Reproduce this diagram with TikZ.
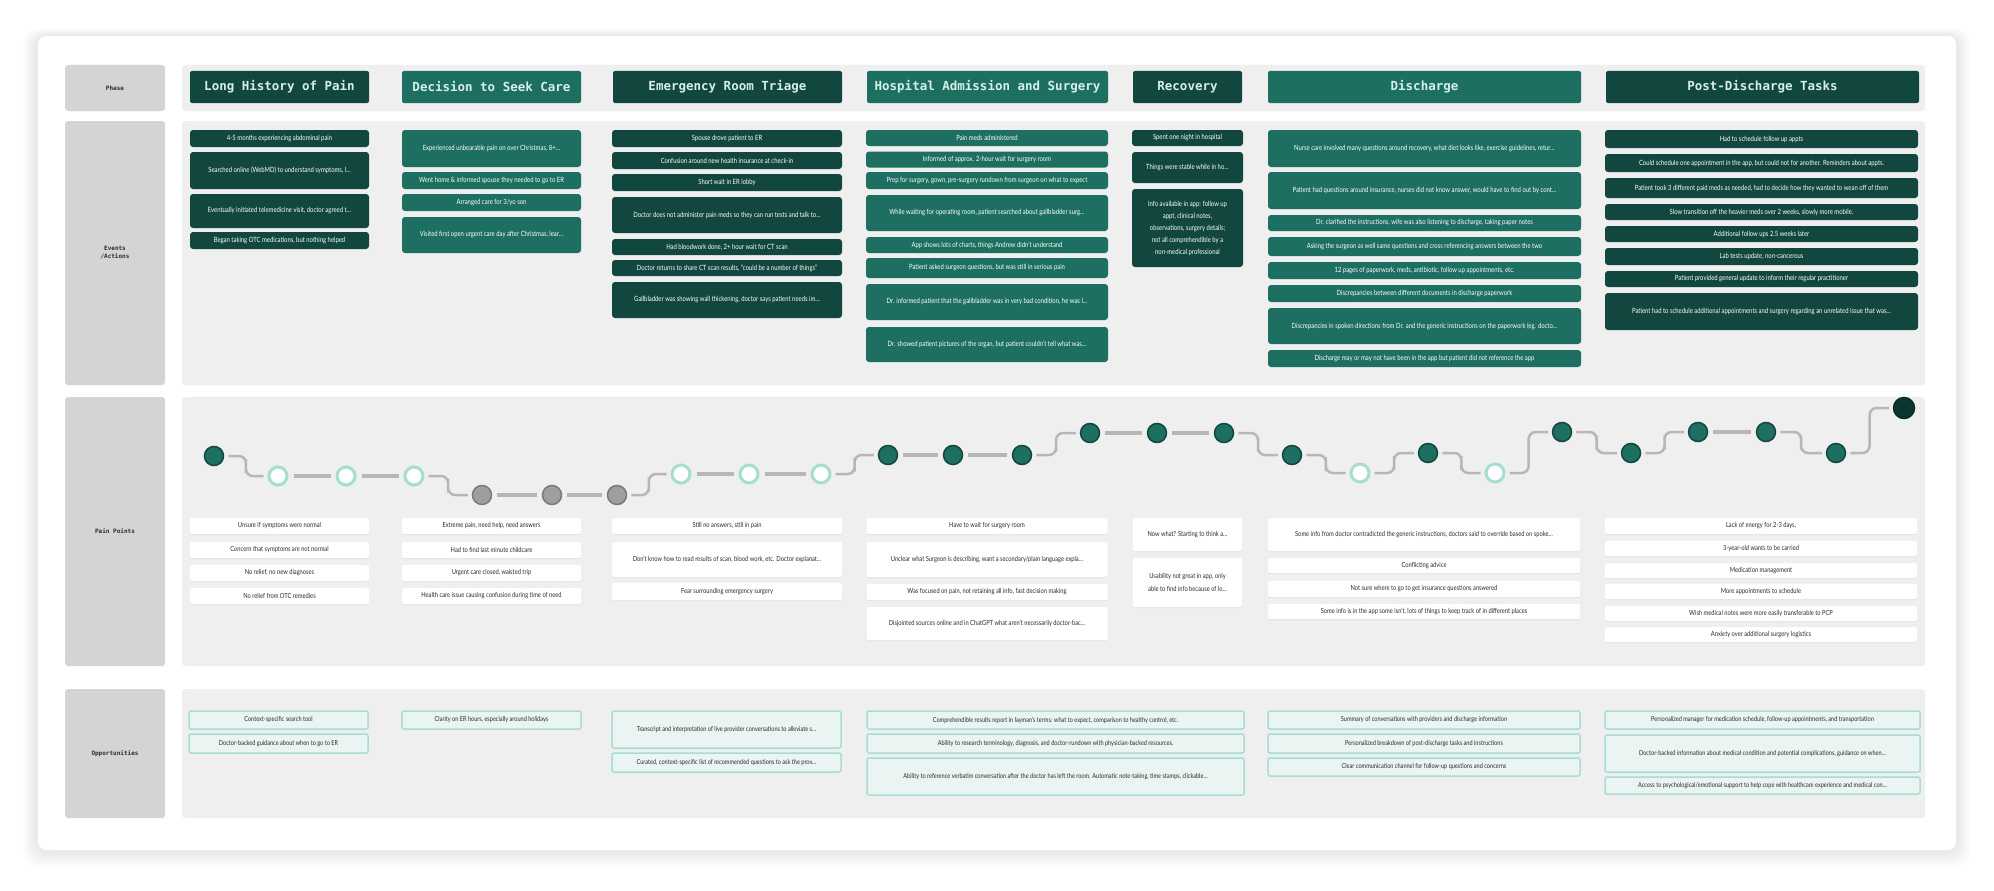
\documentclass[tikz,border=0pt]{standalone}
\usepackage{fontspec}
\setmainfont{Lato}
\newfontfamily\cardfont[FakeStretch=0.82]{Lato}
\newfontfamily\headfont{DejaVu Sans Mono}
\usetikzlibrary{positioning,calc,shadows}
\definecolor{pinedark}{HTML}{11473E}
\definecolor{pinemid}{HTML}{1C6F61}
\definecolor{pineend}{HTML}{0D3530}
\definecolor{mint}{HTML}{A6DED2}
\definecolor{mintpale}{HTML}{EAF4F2}
\definecolor{mintink}{HTML}{D6EFE9}
\definecolor{panelgray}{HTML}{EFEFEF}
\definecolor{labelgray}{HTML}{D4D4D4}
\definecolor{linkgray}{HTML}{B7B7B7}
\definecolor{inkgray}{HTML}{2B2B2B}
\tikzset{
  phasebox/.style={fill=#1, rounded corners=2pt, text=mintink, inner sep=0pt,
    font=\headfont\bfseries\fontsize{12.5}{14}\selectfont, minimum height=32pt},
  eventbox/.style={fill=#1, rounded corners=3pt, text=white, align=center, inner sep=0pt,
    font=\cardfont\fontsize{7.2}{12}\selectfont},
  painbox/.style={fill=white, rounded corners=2pt, text=inkgray, align=center, inner sep=0pt,
    font=\cardfont\fontsize{7}{13}\selectfont,
    drop shadow={shadow xshift=0pt, shadow yshift=-1pt, opacity=0.10}},
  ideabox/.style={fill=mintpale, draw=mint, line width=1.5pt, rounded corners=2pt, text=inkgray,
    align=center, inner sep=0pt, font=\cardfont\fontsize{6.8}{9}\selectfont},
  rowlabel/.style={fill=labelgray, rounded corners=3pt, align=center, inner sep=0pt, text=inkgray,
    font=\headfont\bfseries\fontsize{6}{8}\selectfont, minimum width=100pt},
  ptdark/.style={circle, fill=pinemid, draw=pinedark, line width=1.5pt, minimum size=19pt, inner sep=0pt},
  ptlight/.style={circle, fill=white, draw=mint, line width=3pt, minimum size=18pt, inner sep=0pt},
  ptgray/.style={circle, fill=black!38, draw=black!52, line width=1.5pt, minimum size=19pt, inner sep=0pt},
  ptend/.style={circle, fill=pineend, draw=pineend!80!black, line width=1.5pt, minimum size=21pt, inner sep=0pt},
  flatlink/.style={draw=linkgray, line width=4.5pt, shorten <=5pt, shorten >=5pt},
  steplink/.style={draw=linkgray, line width=2.5pt, rounded corners=7pt, shorten <=4pt, shorten >=4pt}
}
\begin{document}
\begin{tikzpicture}[x=1pt,y=-1pt]
  \useasboundingbox (0,0) rectangle (1994,891);
  \fill[white] (0,0) rectangle (1994,891);
  \foreach \k in {1,...,12}
    \fill[black, opacity=0.006, rounded corners=14pt] (38-1.2*\k,36-0.6*\k) rectangle (1956+1.2*\k,850+1.4*\k);
  \fill[white, rounded corners=8pt] (38,36) rectangle (1956,850);

  \foreach \name/\top/\bot/\t in {phase/65/111/Phase, events/121/385/{Events\\/Actions},
      pain/397/666/{Pain Points}, ideas/689/818/Opportunities} {
    \pgfmathsetmacro\mid{(\top+\bot)/2}
    \pgfmathsetmacro\tall{\bot-\top}
    \fill[panelgray, rounded corners=3pt] (182,\top) rectangle (1925,\bot);
    \node[rowlabel, minimum height=\tall pt] (lab-\name) at (115,\mid) {\t};
  }

  \foreach \cx/\w/\shade/\t [count=\i] in {279.5/179/pinedark/Long History of Pain,
      491.5/179/pinemid/Decision to Seek Care, 727.5/229/pinedark/Emergency Room Triage,
      987.5/241/pinemid/Hospital Admission and Surgery, 1187.5/109/pinedark/Recovery,
      1424.5/313/pinemid/Discharge, 1762.5/313/pinedark/Post-Discharge Tasks}
    \node[phasebox=\shade, minimum width=\w pt] (phase\i) at (\cx,87) {\t};

  % events / actions
  \foreach \y/\h/\t [count=\i] in {138.5/17/{4-5 months experiencing abdominal pain},
      170.5/37/{Searched online (WebMD) to understand symptoms, l…},
      211/34/{Eventually initiated telemedicine visit, doctor agreed t…},
      240.5/17/{Began taking OTC medications, but nothing helped}}
    \node[eventbox=pinedark, minimum width=179pt, minimum height=\h pt] (ev1-\i) at (279.5,\y) {\t};
  \foreach \y/\h/\t [count=\i] in {148.5/37/{Experienced unbearable pain on over Christmas, 8+…},
      180.5/17/{Went home \& informed spouse they needed to go to ER},
      202.5/17/{Arranged care for 3/yo son},
      235/36/{Visited first open urgent care day after Christmas, lear…}}
    \node[eventbox=pinemid, minimum width=179pt, minimum height=\h pt] (ev2-\i) at (491.5,\y) {\t};
  \foreach \y/\h/\t [count=\i] in {138.5/17/{Spouse drove patient to ER},
      160.5/17/{Confusion around new health insurance at check-in},
      182.5/17/{Short wait in ER lobby},
      215/36/{Doctor does not administer pain meds so they can run tests and talk to…},
      247/16/{Had bloodwork done, 2+ hour wait for CT scan},
      268/16/{Doctor returns to share CT scan results, “could be a number of things”},
      300/36/{Gallbladder was showing wall thickening, doctor says patient needs im…}}
    \node[eventbox=pinedark, minimum width=230pt, minimum height=\h pt] (ev3-\i) at (727,\y) {\t};
  \foreach \y/\h/\t [count=\i] in {138/16/{Pain meds administered},
      159.5/16/{Informed of approx. 2-hour wait for surgery room},
      180.5/17/{Prep for surgery, gown, pre-surgery rundown from surgeon on what to expect},
      213/36/{While waiting for operating room, patient searched about gallbladder surg…},
      245/16/{App shows lots of charts, things Andrew didn’t understand},
      268/20/{Patient asked surgeon questions, but was still in serious pain},
      302/36/{Dr. informed patient that the gallbladder was in very bad condition, he was l…},
      344.5/35/{Dr. showed patient pictures of the organ, but patient couldn’t tell what was…}}
    \node[eventbox=pinemid, minimum width=242pt, minimum height=\h pt] (ev4-\i) at (987,\y) {\t};
  \foreach \y/\h/\t [count=\i] in {138/16/{Spent one night in hospital},
      167.5/31/{Things were stable while in ho…},
      228/78/{Info available in app: follow up\\appt, clinical notes,\\observations, surgery details;\\not all comprehendible by a\\non-medical professional}}
    \node[eventbox=pinedark, minimum width=111pt, minimum height=\h pt] (ev5-\i) at (1187.5,\y) {\t};
  \foreach \y/\h/\t [count=\i] in {148.5/37/{Nurse care involved many questions around recovery, what diet looks like, exercise guidelines, retur…},
      190.5/37/{Patient had questions around insurance, nurses did not know answer, would have to find out by cont…},
      223/16/{Dr. clarified the instructions, wife was also listening to discharge, taking paper notes},
      246.5/19/{Asking the surgeon as well same questions and cross referencing answers between the two},
      270.5/17/{12 pages of paperwork, meds, antibiotic, follow up appointments, etc.},
      293.5/17/{Discrepancies between different documents in discharge paperwork},
      326/36/{Discrepancies in spoken directions from Dr. and the generic instructions on the paperwork (eg. docto…},
      358.5/17/{Discharge may or may not have been in the app but patient did not reference the app}}
    \node[eventbox=pinemid, minimum width=313pt, minimum height=\h pt] (ev6-\i) at (1424.5,\y) {\t};
  \foreach \y/\h/\t [count=\i] in {139/18/{Had to schedule follow up appts},
      163/18/{Could schedule one appointment in the app, but could not for another. Reminders about appts.},
      188/20/{Patient took 3 different paid meds as needed, had to decide how they wanted to wean off of them},
      212/16/{Slow transition off the heavier meds over 2 weeks, slowly more mobile.},
      234/16/{Additional follow ups 2.5 weeks later},
      256.5/17/{Lab tests update, non-cancerous},
      279/16/{Patient provided general update to inform their regular practitioner},
      311.5/37/{Patient had to schedule additional appointments and surgery regarding an unrelated issue that was…}}
    \node[eventbox=pinedark, minimum width=313pt, minimum height=\h pt] (ev7-\i) at (1761.5,\y) {\t};

  % emotion curve
  \foreach \x/\y/\kind [count=\i] in {214/456/ptdark, 278/476/ptlight, 346/476/ptlight, 414/476/ptlight,
      482/495/ptgray, 552/495/ptgray, 617/495/ptgray, 681/474/ptlight, 749/474/ptlight, 821/474/ptlight,
      888/455/ptdark, 953/455/ptdark, 1022/455/ptdark, 1090/433/ptdark, 1157/433/ptdark, 1224/433/ptdark,
      1292/455/ptdark, 1360/473/ptlight, 1428/453/ptdark, 1495/473/ptlight, 1562/432/ptdark,
      1631/453/ptdark, 1698/432/ptdark, 1766/432/ptdark, 1836/453/ptdark, 1904/408/ptend}
    \node[\kind] (pt\i) at (\x,\y) {};
  \foreach \a/\b in {2/3, 3/4, 5/6, 6/7, 8/9, 9/10, 11/12, 12/13, 14/15, 15/16, 23/24}
    \draw[flatlink] (pt\a) -- (pt\b);
  \foreach \a/\b in {1/2, 4/5, 7/8, 10/11, 13/14, 16/17, 17/18, 18/19, 19/20, 20/21, 21/22, 22/23, 24/25, 25/26}
    \draw[steplink] (pt\a.east) -| ($(pt\a.east)!.5!(pt\b.west)$) |- (pt\b.west);

  % pain points
  \foreach \y/\h/\t [count=\i] in {526/16/{Unsure if symptoms were normal},
      550/16/{Concern that symptoms are not normal}, 573/16/{No relief, no new diagnoses},
      596/16/{No relief from OTC remedies}}
    \node[painbox, minimum width=179pt, minimum height=\h pt] (pain1-\i) at (279.5,\y) {\t};
  \foreach \y/\h/\t [count=\i] in {526/16/{Extreme pain, need help, need answers},
      550/16/{Had to find last minute childcare}, 573/16/{Urgent care closed, waisted trip},
      596/16/{Health care issue causing confusion during time of need}}
    \node[painbox, minimum width=179pt, minimum height=\h pt] (pain2-\i) at (491.5,\y) {\t};
  \foreach \y/\h/\t [count=\i] in {526/16/{Still no answers, still in pain},
      559.5/35/{Don’t know how to read results of scan, blood work, etc. Doctor explanat…},
      591.5/17/{Fear surrounding emergency surgery}}
    \node[painbox, minimum width=230pt, minimum height=\h pt] (pain3-\i) at (727,\y) {\t};
  \foreach \y/\h/\t [count=\i] in {526/16/{Have to wait for surgery room},
      559.5/35/{Unclear what Surgeon is describing, want a secondary/plain language expla…},
      592/16/{Was focused on pain, not retaining all info, fast decision making},
      623.5/33/{Disjointed sources online and in ChatGPT what aren’t necessarily doctor-bac…}}
    \node[painbox, minimum width=241pt, minimum height=\h pt] (pain4-\i) at (987,\y) {\t};
  \foreach \y/\h/\t [count=\i] in {534.5/33/{Now what? Starting to think a…},
      582.5/49/{Usability not great in app, only\\able to find info because of lo…}}
    \node[painbox, minimum width=109pt, minimum height=\h pt] (pain5-\i) at (1187.5,\y) {\t};
  \foreach \y/\h/\t [count=\i] in {534.5/33/{Some info from doctor contradicted the generic instructions, doctors said to override based on spoke…},
      565.5/15/{Conflicting advice}, 589/16/{Not sure where to go to get insurance questions answered},
      611.5/15/{Some info is in the app some isn’t, lots of things to keep track of in different places}}
    \node[painbox, minimum width=312pt, minimum height=\h pt] (pain6-\i) at (1424,\y) {\t};
  \foreach \y/\h/\t [count=\i] in {526/16/{Lack of energy for 2-3 days,},
      548.5/15/{3-year-old wants to be carried}, 570.5/15/{Medication management},
      591.5/15/{More appointments to schedule},
      613.5/15/{Wish medical notes were more easily transferable to PCP},
      634.5/15/{Anxiety over additional surgery logistics}}
    \node[painbox, minimum width=312pt, minimum height=\h pt] (pain7-\i) at (1761,\y) {\t};

  % opportunities
  \foreach \y/\h/\t [count=\i] in {720/18/{Context-specific search tool},
      743.5/19/{Doctor-backed guidance about when to go to ER}}
    \node[ideabox, minimum width=179pt, minimum height=\h pt] (idea1-\i) at (278.5,\y) {\t};
  \foreach \y/\h/\t [count=\i] in {720/18/{Clarity on ER hours, especially around holidays}}
    \node[ideabox, minimum width=179pt, minimum height=\h pt] (idea2-\i) at (491.5,\y) {\t};
  \foreach \y/\h/\t [count=\i] in {729.5/37/{Transcript and interpretation of live provider conversations to alleviate s…},
      762.5/19/{Curated, context-specific list of recommended questions to ask the prov…}}
    \node[ideabox, minimum width=229pt, minimum height=\h pt] (idea3-\i) at (726.5,\y) {\t};
  \foreach \y/\h/\t [count=\i] in {720/18/{Comprehendible results report in layman’s terms: what to expect, comparison to healthy control, etc.},
      743.5/19/{Ability to research terminology, diagnosis, and doctor-rundown with physician-backed resources.},
      776.5/37/{Ability to reference verbatim conversation after the doctor has left the room. Automatic note-taking, time stamps, clickable…}}
    \node[ideabox, minimum width=377pt, minimum height=\h pt] (idea4-\i) at (1055.5,\y) {\t};
  \foreach \y/\h/\t [count=\i] in {720/18/{Summary of conversations with providers and discharge information},
      743.5/19/{Personalized breakdown of post-discharge tasks and instructions},
      767/18/{Clear communication channel for follow-up questions and concerns}}
    \node[ideabox, minimum width=312pt, minimum height=\h pt] (idea6-\i) at (1424,\y) {\t};
  \foreach \y/\h/\t [count=\i] in {720/18/{Personalized manager for medication schedule, follow-up appointments, and transportation},
      753.5/37/{Doctor-backed information about medical condition and potential complications, guidance on when…},
      785.5/17/{Access to psychological/emotional support to help cope with healthcare experience and medical con…}}
    \node[ideabox, minimum width=315pt, minimum height=\h pt] (idea7-\i) at (1762.5,\y) {\t};
\end{tikzpicture}
\end{document}
